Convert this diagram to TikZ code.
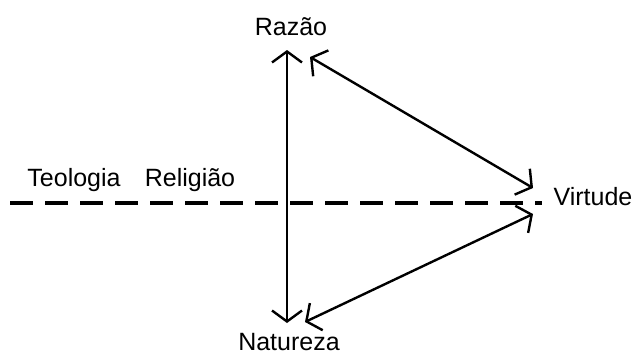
\documentclass[tikz,border=0pt]{standalone}
\usepackage{fontspec}
\setmainfont{Liberation Sans}
\usetikzlibrary{arrows.meta,positioning}

\begin{document}
\begin{tikzpicture}[
x=0.5pt,y=-0.5pt,
lbl/.style={inner sep=0pt,font=\fontsize{12.5}{14}\selectfont},
link/.style={{Straight Barb[length=5.5pt,width=15pt]}-{Straight Barb[length=5.5pt,width=15pt]},line width=1.2pt},
axis/.style={line width=1.7pt,dash pattern=on 11.5pt off 6pt}]
\useasboundingbox (0,0) rectangle (636,354);
\node[lbl] (razao) at (291,27) {Razão};
\node[lbl] (natureza) at (289,342) {Natureza};
\node[lbl] (virtude) at (593,197) {Virtude};
\node[lbl] (teologia) at (74,180) {Teologia};
\node[lbl] (religiao) at (190,180) {Religião};
\coordinate (top) at (287,50);
\coordinate (bot) at (287,323);
\coordinate (rtop) at (310,57);
\coordinate (rbot) at (305,322);
\coordinate (vtop) at (533,188);
\coordinate (vbot) at (533,214);
\coordinate (west) at (10,203);
\coordinate (east) at (542,203);
\draw[axis] (west) -- (east);
\draw[link] (top) -- (bot);
\draw[link] (rtop) -- (vtop);
\draw[link] (rbot) -- (vbot);
\end{tikzpicture}
\end{document}
